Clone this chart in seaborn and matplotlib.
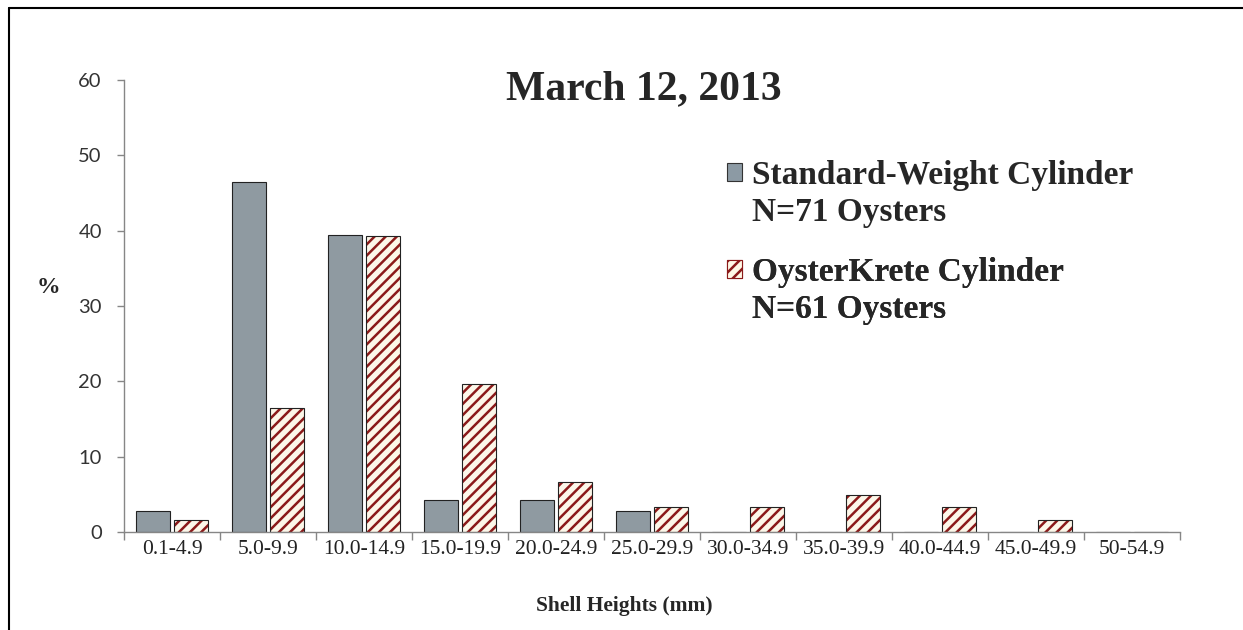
import matplotlib
matplotlib.use("Agg")
import matplotlib.pyplot as plt
import seaborn as sns
import numpy as np
import pandas as pd
from matplotlib.patches import Patch, Rectangle
from matplotlib.lines import Line2D

# shell height classes (mm)
size_classes = ["0.1-4.9", "5.0-9.9", "10.0-14.9", "15.0-19.9", "20.0-24.9",
                "25.0-29.9", "30.0-34.9", "35.0-39.9", "40.0-44.9",
                "45.0-49.9", "50-54.9"]
# percent of oysters in each class
standard_pct = [2.8, 46.5, 39.4, 4.2, 4.2, 2.8, 0, 0, 0, 0, 0]
oysterkrete_pct = [1.6, 16.4, 39.3, 19.7, 6.6, 3.3, 3.3, 4.9, 3.3, 1.6, 0]

groups = ["Standard-Weight Cylinder", "OysterKrete Cylinder"]
group_n = ["N=71 Oysters", "N=61 Oysters"]
y_ticks = [0, 10, 20, 30, 40, 50, 60]

GRAY = "#8c9aa4"
CREAM = "#fff8e6"
DARK_RED = "#8b1a1a"
AXIS_GRAY = "#868686"

df = pd.DataFrame({
    "size": size_classes * 2,
    "pct": standard_pct + oysterkrete_pct,
    "group": [groups[0]] * len(size_classes) + [groups[1]] * len(size_classes),
})

sns.set_style("ticks")
plt.rcParams["hatch.linewidth"] = 1.8

fig = plt.figure(figsize=(12.43, 6.30), dpi=100)
ax = fig.add_axes([124 / 1243, 1 - 532 / 630, 1056 / 1243, 452 / 630])

sns.barplot(data=df, x="size", y="pct", hue="group", palette=[GRAY, CREAM],
            width=0.8, gap=0.12, edgecolor="#222222", linewidth=0.8,
            legend=False, ax=ax)

# striped bars: red hatch, black outline on top
for bar in ax.containers[1]:
    bar.set_hatch("///")
    bar.set_edgecolor(DARK_RED)
    bar.set_linewidth(0)
    ax.add_patch(Rectangle(bar.get_xy(), bar.get_width(), bar.get_height(),
                           fill=False, edgecolor="#222222", linewidth=0.8,
                           zorder=bar.get_zorder() + 0.1))

ax.set_xlim(-0.5, len(size_classes) - 0.5)
ax.set_ylim(0, 60)
ax.set_yticks(y_ticks)
ax.set_yticklabels([str(t) for t in y_ticks], family="Lato", size=14.5,
                   color="#333333")

# excel style: ticks between categories, labels centered
ax.set_xticks(np.arange(-0.5, len(size_classes), 1))
ax.set_xticklabels([])
ax.set_xticks(np.arange(len(size_classes)), minor=True)
ax.set_xticklabels(size_classes, minor=True, family="Liberation Serif",
                   size=15.5, color="#222222")
ax.tick_params(axis="x", which="major", length=6, color=AXIS_GRAY, width=1)
ax.tick_params(axis="x", which="minor", length=0, pad=6)
ax.tick_params(axis="y", length=5, color=AXIS_GRAY, width=1, pad=11)

for side in ["top", "right"]:
    ax.spines[side].set_visible(False)
for side in ["left", "bottom"]:
    ax.spines[side].set_color(AXIS_GRAY)
    ax.spines[side].set_linewidth(1)

ax.set_xlabel("Shell Heights (mm)", family="Liberation Serif",
              weight="bold", size=15.5, va="center")
ax.xaxis.set_label_coords(0.4735, -0.164)
ax.set_ylabel("%", family="Liberation Serif", weight="bold", size=17,
              rotation=0, ha="center", va="center")
ax.yaxis.set_label_coords(-0.072, 0.542)

fig.text(644 / 1243, 1 - 89 / 630, "March 12, 2013", ha="center", va="center",
         family="Liberation Serif", weight="bold", size=30)

# legend, two blocks
leg_font = dict(family="Liberation Serif", weight="bold", size=24)
blank = Patch(facecolor="none", edgecolor="none")
handles = [Patch(facecolor=GRAY, edgecolor="#333333", linewidth=0.8),
           Patch(facecolor=CREAM, edgecolor=DARK_RED, hatch="///",
                 linewidth=0.8)]
tops = [160, 257]
for i in range(2):
    leg = ax.legend([handles[i], blank], [groups[i], group_n[i]],
                    loc="upper left",
                    bbox_to_anchor=(727 / 1243, 1 - tops[i] / 630),
                    bbox_transform=fig.transFigure, frameon=False,
                    prop=leg_font, handlelength=0.45, handleheight=0.45,
                    handletextpad=0.3, labelspacing=0.18, borderpad=0,
                    borderaxespad=0)
    ax.add_artist(leg)

# picture frame (top and left edges)
fig.add_artist(Line2D([9 / 1243, 9 / 1243], [0, 1 - 8 / 630], color="black",
                      linewidth=1.5, transform=fig.transFigure))
fig.add_artist(Line2D([9 / 1243, 1], [1 - 8 / 630, 1 - 8 / 630], color="black",
                      linewidth=1.5, transform=fig.transFigure))

fig.savefig("out.png", dpi=100)
